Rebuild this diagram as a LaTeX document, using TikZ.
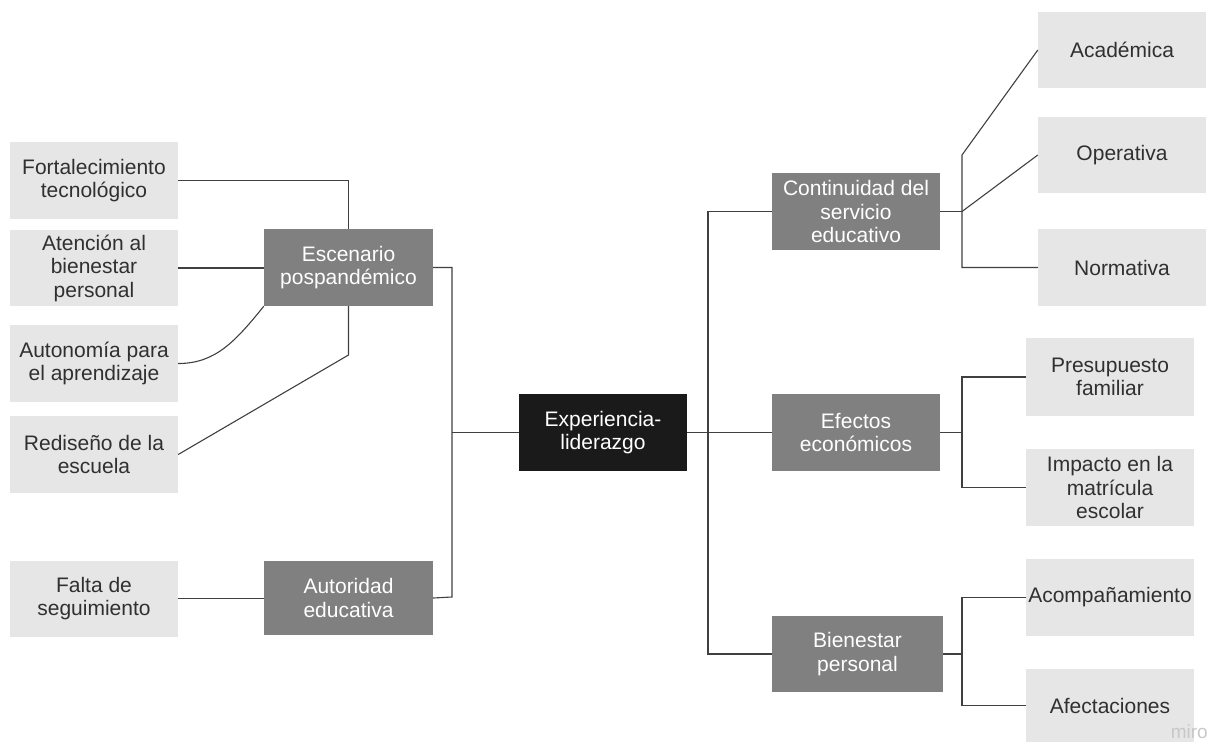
\documentclass[tikz,border=0pt]{standalone}
\usepackage{fontspec}
\setmainfont{Liberation Sans}
\definecolor{leafgray}{HTML}{E6E6E6}
\definecolor{midgray}{HTML}{808080}
\definecolor{rootblack}{HTML}{1A1A1A}
\definecolor{linegray}{HTML}{404040}
\definecolor{leaftext}{HTML}{303030}
\definecolor{mirogray}{HTML}{C8C8C8}
\begin{document}
\begin{tikzpicture}[x=1pt,y=-1pt,
  leafbox/.style={fill=leafgray,text=leaftext,minimum width=168pt,minimum height=77pt,align=center,inner sep=2pt,font=\fontsize{21}{23.5}\selectfont},
  midbox/.style={fill=midgray,text=white,minimum width=169pt,minimum height=77pt,align=center,inner sep=2pt,font=\fontsize{21}{23.5}\selectfont},
  rootbox/.style={fill=rootblack,text=white,minimum width=168pt,minimum height=77pt,align=center,inner sep=2pt,font=\fontsize{21}{23.5}\selectfont},
  conn/.style={draw=linegray,line width=1.1pt}]
\useasboundingbox (0,0) rectangle (1210,742);
% left leaves
\node[leafbox] (fort) at (94,180.5) {Fortalecimiento\\tecnológico};
\node[leafbox,minimum height=76pt] (aten) at (94,268) {Atención al\\bienestar\\personal};
\node[leafbox] (auto) at (94,363.5) {Autonomía para\\el aprendizaje};
\node[leafbox] (redis) at (94,454.5) {Rediseño de la\\escuela};
\node[leafbox,minimum height=76pt] (falta) at (94,598.5) {Falta de\\seguimiento};
% left mid
\node[midbox] (esc) at (348.5,267.5) {Escenario\\pospandémico};
\node[midbox,minimum height=74pt] (autor) at (348.5,598) {Autoridad\\educativa};
% root
\node[rootbox] (exp) at (603,432.5) {Experiencia-\\liderazgo};
% right mid
\node[midbox,minimum width=168pt] (cont) at (856,211.5) {Continuidad del\\servicio\\educativo};
\node[midbox,minimum width=168pt] (efec) at (856,432.5) {Efectos\\económicos};
\node[midbox,minimum width=171pt,minimum height=76pt] (bien) at (857.5,654) {Bienestar\\personal};
% right leaves
\node[leafbox,minimum height=76pt] (acad) at (1122,50) {Académica};
\node[leafbox,minimum height=76pt] (oper) at (1122,155) {Operativa};
\node[leafbox] (norm) at (1122,267.5) {Normativa};
\node[leafbox,minimum height=78pt] (pres) at (1110,377) {Presupuesto\\familiar};
\node[leafbox] (imp) at (1110,487.5) {Impacto en la\\matrícula\\escolar};
\node[leafbox] (acom) at (1110,597.5) {Acompañamiento};
\node[leafbox,minimum height=73pt] (afec) at (1110,705.5) {Afectaciones};
\node[text=mirogray,font=\fontsize{19}{19}\selectfont,anchor=south east,inner sep=0pt] (miro) at (1208,739) {miro};
% coordinates
\coordinate (redisk) at (348.5,355);
\coordinate (lspine) at (452,267.5);
\coordinate (lspineb) at (452,597);
\coordinate (rspine) at (708,211.5);
\coordinate (cbr) at (962,211.5);
\coordinate (cbrt) at (962,155);
\coordinate (cbrb) at (962,267.5);
\coordinate (ebr) at (962,432.5);
\coordinate (bbr) at (962,654);
% left connectors
\draw[conn] (fort.east) -| (esc.north);
\draw[conn] (aten.east) -- (aten.east -| esc.west);
\draw[conn] (auto.east) .. controls (215,363.5) and (235,342) .. (esc.south west);
\draw[conn] (redis.east) -- (redisk) -- (esc.south);
\draw[conn] (esc.east) -- (lspine) -- (lspineb) -- (autor.east);
\draw[conn] (falta.east) -- (falta.east -| autor.west);
\draw[conn] (exp.west -| lspine) -- (exp.west);
% right connectors
\draw[conn] (exp.east) -- (efec.west);
\draw[conn] (cont.west) -- (rspine) |- (bien.west);
\draw[conn] (cont.east) -- (cbr);
\draw[conn] (acad.west) -- (cbrt) -- (cbrb) -- (norm.west);
\draw[conn] (cbr) -- (oper.west);
\draw[conn] (efec.east) -- (ebr);
\draw[conn] (pres.west) -| (ebr) |- (imp.west);
\draw[conn] (bien.east) -- (bbr);
\draw[conn] (acom.west) -| (bbr) |- (afec.west);
\end{tikzpicture}
\end{document}
